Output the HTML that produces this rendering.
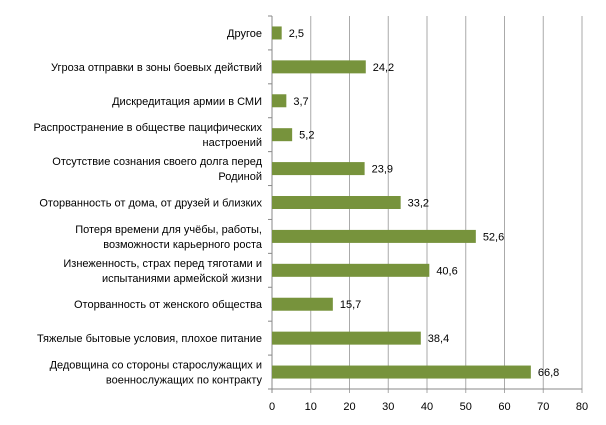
<!DOCTYPE html>
<html><head><meta charset="utf-8"><style>
body{margin:0;background:#fff;}
svg{display:block;font-family:"Liberation Sans","DejaVu Sans",sans-serif;font-size:11px;fill:#000;}
</style></head><body>
<svg id="c" width="606" height="425"></svg>
<script>
const categories=["Другое","Угроза отправки в зоны боевых действий","Дискредитация армии в СМИ","Распространение в обществе пацифических|настроений","Отсутствие сознания своего долга перед|Родиной","Оторванность от дома, от друзей и близких","Потеря времени для учёбы, работы,|возможности карьерного роста","Изнеженность, страх перед тяготами и|испытаниями армейской жизни","Оторванность от женского общества","Тяжелые бытовые условия, плохое питание","Дедовщина со стороны старослужащих и|военнослужащих по контракту"];
const values=[2.5,24.2,3.7,5.2,23.9,33.2,52.6,40.6,15.7,38.4,66.8];
const valueLabels=["2,5","24,2","3,7","5,2","23,9","33,2","52,6","40,6","15,7","38,4","66,8"];
const ticks=[0,10,20,30,40,50,60,70,80];
const NS="http://www.w3.org/2000/svg";
const svg=document.getElementById('c');
const X0=272,X1=582,T=16,B=389,xmax=80;
const x=v=>X0+(X1-X0)*v/xmax;
const band=(B-T)/categories.length;
const y=i=>T+band*(i+0.5);
function mk(t,a){const e=document.createElementNS(NS,t);for(const k in a)e.setAttribute(k,a[k]);svg.appendChild(e);return e;}
ticks.forEach(t=>{
  const g=mk('line',{x1:x(t),x2:x(t),y1:T,y2:B+4,stroke:t===0?'#888':'#aaa','stroke-width':1});
  
  
  const l=mk('text',{x:x(t),y:B+21,'text-anchor':'middle'});l.textContent=t;
  
  
});
const ax=mk('line',{x1:X0,x2:X1,y1:B,y2:B,stroke:'#888'});


for(let i=0;i<=categories.length;i++){
  const tk=mk('line',{x1:X0-4,x2:X0,y1:T+band*i,y2:T+band*i,stroke:'#888'});
  
  
}
categories.forEach((c,i)=>{
  const r=mk('rect',{x:X0,y:y(i)-6.5,width:x(values[i])-X0,height:13,fill:'#77933c'});
  
  
  const v=mk('text',{x:x(values[i])+7,y:y(i)+4});v.textContent=valueLabels[i];
  
  
  const lines=c.split('|');
  const t=mk('text',{x:262,'text-anchor':'end'});
  
  
  lines.forEach((s,j)=>{const ts=document.createElementNS(NS,'tspan');ts.setAttribute('x',262);ts.setAttribute('y',y(i)+4+(j-(lines.length-1)/2)*15);ts.textContent=s;t.appendChild(ts);});
});
</script>
</body></html>
